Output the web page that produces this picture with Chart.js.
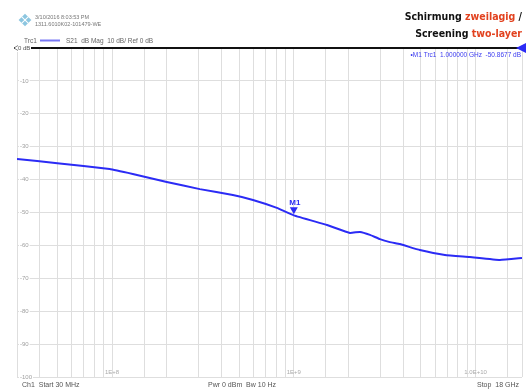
<!DOCTYPE html>
<html>
<head>
<meta charset="utf-8">
<script src="https://cdn.jsdelivr.net/npm/chart.js@4.4.1/dist/chart.umd.min.js"></script>
<style>
  html, body { margin: 0; padding: 0; background: #fff; }
  #wrap { position: relative; width: 529px; height: 390px; }
</style>
</head>
<body>
<div id="wrap"><canvas id="c" width="529" height="390"></canvas></div>
<script>
/* S21 screening trace */
const freqMHz = [30, 50, 97, 130, 200, 304, 462, 596, 807, 1000, 1523, 2037, 2313, 2625, 2975, 3377, 3832, 4935, 6780, 9290, 13600, 18000];
const s21dB   = [-33.7, -35.0, -36.8, -38.3, -40.7, -42.9, -44.7, -46.2, -48.6, -50.87, -53.8, -56.2, -55.9, -56.8, -58.1, -59.0, -59.6, -61.4, -62.9, -63.5, -64.4, -63.8];

const yTicks      = [-10, -20, -30, -40, -50, -60, -70, -80, -90, -100];
const xTickHz     = [1e8, 1e9, 1e10];
const xTickLabels = ['1E+8', '1E+9', '1.0E+10'];

const markerHz = 1e9;
const markerDb = -50.87;
const refLevel = 0;

const BLUE = '#2b2bf5';
const SMALL = '"Liberation Sans", Arial, sans-serif';

// overlay: ref line, marker, scope labels
const annotate = {
  id: 'annotate',
  afterDatasetsDraw(chart) {
    const { ctx, chartArea: a, scales: { x, y } } = chart;
    ctx.save();

    // y labels inside the grid
    ctx.font = '6px ' + SMALL;
    ctx.textBaseline = 'middle';
    ctx.textAlign = 'left';
    yTicks.forEach(v => {
      const py = y.getPixelForValue(v);
      const t = String(v);
      const w = ctx.measureText(t).width;
      ctx.fillStyle = '#fff';
      ctx.fillRect(a.left + 2, py - 3, w + 2, 6);
      ctx.fillStyle = '#a0a0a0';
      ctx.fillText(t, a.left + 3, py);
    });

    // x decade labels near the bottom
    xTickHz.forEach((v, i) => {
      const px = x.getPixelForValue(v);
      const t = xTickLabels[i];
      const w = ctx.measureText(t).width;
      let lx = px - w / 2;
      if (lx + w > a.right - 1) lx = a.right - 1 - w;
      ctx.fillStyle = '#aaa';
      ctx.fillText(t, lx, a.bottom - 5);
    });

    // reference level line
    const ry = y.getPixelForValue(refLevel);
    ctx.strokeStyle = '#111';
    ctx.lineWidth = 2;
    ctx.beginPath();
    ctx.moveTo(a.left - 3, ry);
    ctx.lineTo(a.right - 2, ry);
    ctx.stroke();

    // ref arrow on the right
    ctx.fillStyle = BLUE;
    ctx.beginPath();
    ctx.moveTo(a.right - 6, ry);
    ctx.lineTo(a.right + 4, ry - 5);
    ctx.lineTo(a.right + 4, ry + 5);
    ctx.closePath();
    ctx.fill();

    // "0 dB" with little left arrow
    ctx.fillStyle = '#fff';
    ctx.fillRect(a.left - 2, ry - 4, 16, 8);
    ctx.strokeStyle = '#666';
    ctx.lineWidth = 0.8;
    ctx.beginPath();
    ctx.moveTo(a.left + 1, ry - 2.5);
    ctx.lineTo(a.left - 3, ry);
    ctx.lineTo(a.left + 1, ry + 2.5);
    ctx.stroke();
    ctx.fillStyle = '#555';
    ctx.font = '6px ' + SMALL;
    ctx.textAlign = 'left';
    ctx.fillText('0 dB', a.left + 1, ry);

    // marker M1
    const mx = x.getPixelForValue(markerHz);
    const my = y.getPixelForValue(markerDb);
    ctx.fillStyle = BLUE;
    ctx.beginPath();
    ctx.moveTo(mx, my - 1);
    ctx.lineTo(mx - 4, my - 8);
    ctx.lineTo(mx + 4, my - 8);
    ctx.closePath();
    ctx.fill();
    ctx.font = 'bold 8px ' + SMALL;
    ctx.textAlign = 'center';
    ctx.textBaseline = 'alphabetic';
    ctx.fillText('M1', mx + 1, my - 10);

    // marker readout
    ctx.font = '6.5px ' + SMALL;
    ctx.textAlign = 'right';
    ctx.textBaseline = 'middle';
    ctx.fillStyle = '#3b3bf0';
    ctx.fillText('\u2022M1 Trc1  1.000000 GHz  -50.8677 dB', a.right - 1, ry + 7);

    ctx.restore();
  },
  afterDraw(chart) {
    const { ctx } = chart;
    ctx.save();

    // logo
    ctx.translate(25, 20);
    ctx.rotate(Math.PI / 4);
    ctx.fillStyle = '#8cc6e0';
    ctx.fillRect(-4.5, -4.5, 9, 9);
    ctx.fillStyle = '#fff';
    ctx.fillRect(-0.5, -4.5, 1, 9);
    ctx.fillRect(-4.5, -0.5, 9, 1);
    ctx.setTransform(1, 0, 0, 1, 0, 0);

    ctx.font = '5.5px ' + SMALL;
    ctx.fillStyle = '#777';
    ctx.textAlign = 'left';
    ctx.textBaseline = 'middle';
    ctx.fillText('3/10/2016 8:03:53 PM', 35, 17);
    ctx.fillText('1311.6010K02-101479-WE', 35, 24);

    // trace legend
    ctx.font = '6.5px ' + SMALL;
    ctx.fillStyle = '#666';
    ctx.fillText('Trc1', 24, 41);
    ctx.strokeStyle = '#7878f5';
    ctx.lineWidth = 2;
    ctx.beginPath();
    ctx.moveTo(40, 40.5);
    ctx.lineTo(60, 40.5);
    ctx.stroke();
    ctx.fillText('S21  dB Mag  10 dB/ Ref 0 dB', 66, 41);

    // footer
    ctx.font = '7px ' + SMALL;
    ctx.fillStyle = '#555';
    ctx.fillText('Ch1  Start 30 MHz', 22, 385);
    ctx.fillText('Pwr 0 dBm  Bw 10 Hz', 208, 385);
    ctx.textAlign = 'right';
    ctx.fillText('Stop  18 GHz', 519, 385);

    // title, two colours, right aligned
    const line = (parts, yy) => {
      ctx.font = 'bold 10.5px "DejaVu Sans Condensed", "DejaVu Sans", sans-serif';
      let xx = 522;
      for (let i = parts.length - 1; i >= 0; i--) {
        const [t, c] = parts[i];
        ctx.fillStyle = c;
        ctx.textAlign = 'right';
        ctx.fillText(t, xx, yy);
        xx -= ctx.measureText(t).width;
      }
    };
    line([['Schirmung ', '#111'], ['zweilagig', '#e2421f'], [' /', '#111']], 17);
    line([['Screening ', '#111'], ['two-layer', '#e2421f']], 34);

    ctx.restore();
  }
};

new Chart(document.getElementById('c'), {
  type: 'line',
  data: {
    datasets: [{
      label: 'S21',
      data: freqMHz.map((f, i) => ({ x: f * 1e6, y: s21dB[i] })),
      borderColor: BLUE,
      borderWidth: 2,
      pointRadius: 0,
      tension: 0.1,
      fill: false,
    }]
  },
  options: {
    responsive: false,
    animation: false,
    layout: { padding: { left: 17, top: 48, right: 7, bottom: 13 } },
    plugins: { legend: { display: false }, tooltip: { enabled: false } },
    scales: {
      x: {
        type: 'logarithmic',
        min: 3e7, max: 1.8e10,
        ticks: { display: false },
        grid: { color: '#dedede', lineWidth: 1, drawTicks: false },
        border: { display: false },
      },
      y: {
        min: -100, max: 0,
        ticks: { display: false, stepSize: 10 },
        grid: { color: '#dedede', lineWidth: 1, drawTicks: false },
        border: { display: false },
      }
    }
  },
  plugins: [annotate]
});
</script>
</body>
</html>
